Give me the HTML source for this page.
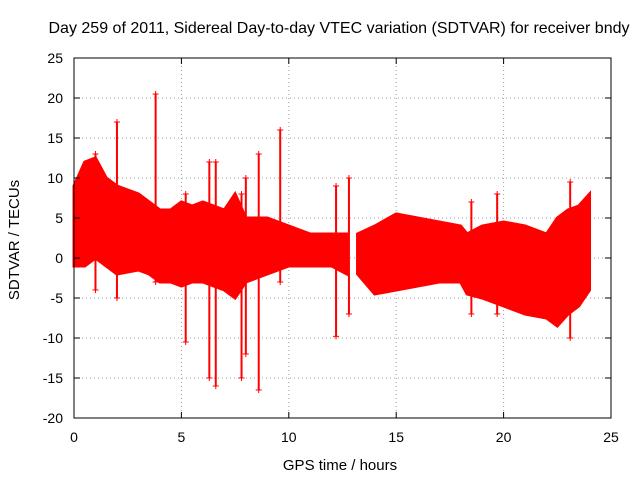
<!DOCTYPE html>
<html><head><meta charset="utf-8"><style>
body{margin:0;background:#fff}
svg{display:block;font-family:"Liberation Sans",sans-serif}
</style></head><body>
<svg id="chart" width="640" height="480">
<text x="339" y="33" font-size="16" text-anchor="middle">Day 259 of 2011, Sidereal Day-to-day VTEC variation (SDTVAR) for receiver bndy</text>
<text x="340" y="470" font-size="15" text-anchor="middle">GPS time / hours</text>
<text transform="translate(19,240) rotate(-90)" font-size="15" text-anchor="middle">SDTVAR / TECUs</text>
<g id="grid"></g><g id="data"></g><g id="axes"></g>
</svg>
<script>
const xTicks=[0,5,10,15,20,25];
const yTicks=[-20,-15,-10,-5,0,5,10,15,20,25];
const bandHours=[0,0.5,1,1.5,2,3,3.5,4,4.5,5,5.5,6,7,7.5,8,9,10,11,12,12.7];
const bandUpper=[9,12,12.5,10,9,8,7,6,6,7,6.5,7,6,8,5,5,4,3,3,3];
const bandLower=[-1,-1,0,-1,-2,-1.5,-2,-3,-3,-3.5,-3,-3,-4,-5,-3,-2,-1,-1,-1,-2];
const band2Hours=[13.2,14,15,16,17,18,18.3,19,20,21,22,22.5,23,23.5,24];
const band2Upper=[3,4,5.5,5,4.5,4,3,4,4.5,4,3,5,6,6.5,8];
const band2Lower=[-2,-4.5,-4,-3.5,-3,-3,-4.5,-5,-6,-7,-7.5,-8.5,-7,-6,-4];
const spikeHours=[1.0,2.0,3.8,5.2,6.3,6.6,7.8,8.0,8.6,9.6,12.2,12.8,18.5,19.7,23.1];
const spikeLow=[-4,-5,-3,-10.5,-15,-16,-15,-12,-16.5,-3,-9.8,-7,-7,-7,-10];
const spikeHigh=[13,17,20.5,8,12,12,8,10,13,16,9,10,7,8,9.5];
const X=v=>74+v*(611-74)/25, Y=v=>258-v*8;
const ns="http://www.w3.org/2000/svg";
function mk(tag,attrs,parent){const e=document.createElementNS(ns,tag);for(const k in attrs)e.setAttribute(k,attrs[k]);parent.appendChild(e);return e;}
const grid=document.getElementById('grid'),axes=document.getElementById('axes'),data=document.getElementById('data');
xTicks.forEach(t=>{
 if(t>0&&t<25){const g=mk('line',{x1:X(t),x2:X(t),y1:58,y2:418,stroke:'#a0a0a0','stroke-dasharray':'1,3'},grid);
 
 }
 const l=mk('text',{x:X(t),y:442,'font-size':14,'text-anchor':'middle'},axes);l.textContent=t;
 
 
 mk('line',{x1:X(t),x2:X(t),y1:418,y2:412,stroke:'#000'},axes);mk('line',{x1:X(t),x2:X(t),y1:58,y2:64,stroke:'#000'},axes);
});
yTicks.forEach(t=>{
 if(t>-20&&t<25){const g=mk('line',{x1:74,x2:611,y1:Y(t),y2:Y(t),stroke:'#a0a0a0','stroke-dasharray':'1,3'},grid);
 
 }
 const l=mk('text',{x:63,y:Y(t)+5,'font-size':14,'text-anchor':'end'},axes);l.textContent=t;
 
 
 mk('line',{x1:74,x2:80,y1:Y(t),y2:Y(t),stroke:'#000'},axes);mk('line',{x1:611,x2:605,y1:Y(t),y2:Y(t),stroke:'#000'},axes);
});
const frame=mk('rect',{x:74,y:58,width:537,height:360,fill:'none',stroke:'#000'},axes);


function band(h,u,lo,name){
 const pts=h.map((x,i)=>X(x)+','+Y(u[i])).concat(h.map((x,i)=>X(x)+','+Y(lo[i])).reverse());
 const p=mk('polygon',{points:pts.join(' '),fill:'#ff0000',stroke:'#ff0000','stroke-width':3},data);
 
 
}
band(bandHours,bandUpper,bandLower,'sdtvar-band-1');
band(band2Hours,band2Upper,band2Lower,'sdtvar-band-2');
spikeHours.forEach((h,i)=>{
 const s=mk('line',{x1:X(h),x2:X(h),y1:Y(spikeHigh[i]),y2:Y(spikeLow[i]),stroke:'#ff0000','stroke-width':2},data);
 
 
 [spikeHigh[i],spikeLow[i]].forEach(v=>{
  const m=mk('path',{d:`M${X(h)-3},${Y(v)}h6M${X(h)},${Y(v)-3}v6`,stroke:'#ff0000','stroke-width':1},data);
  
  
 });
});
</script>
</body></html>
